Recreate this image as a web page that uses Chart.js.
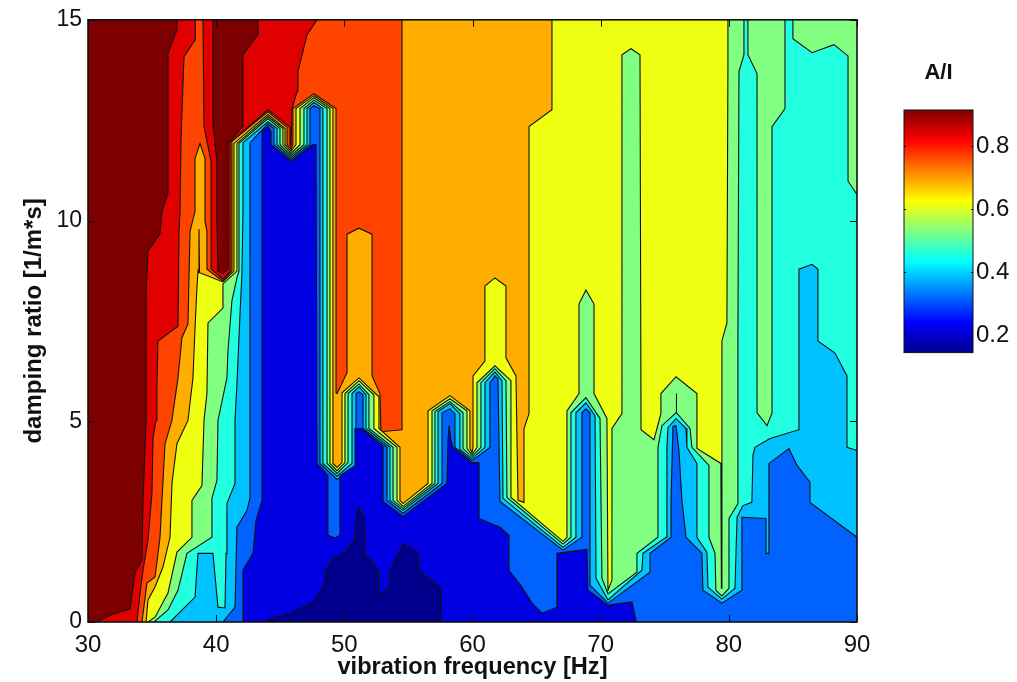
<!DOCTYPE html>
<html><head><meta charset="utf-8"><title>A/I contour</title>
<style>html,body{margin:0;background:#fff;overflow:hidden}canvas{position:absolute;display:block}</style>
<script src="https://cdn.jsdelivr.net/npm/chart.js@4"></script></head><body>
<canvas id="main" width="1017" height="682" style="left:0;top:0"></canvas>
<canvas id="bar" width="157" height="320" style="left:860px;top:50px"></canvas>
<script>
const contour1=[[43.81,0],[43.97,.05],[45.99,.25],[47.55,.5],[48.49,.97],[48.49,1.29],[49.11,1.59],[49.66,1.66],[50.21,1.79],[50.83,2.11],[50.99,2.78],[51.14,2.86],[51.53,2.61],[51.61,1.71],[52.63,1.29],[52.7,.74],[53.02,.74],[53.48,.84],[53.56,1.29],[54.58,1.96],[55.82,1.71],[55.82,1.29],[57.54,.84],[57.54,-.1]];
const contour2=[[42.09,0],[42.09,1.29],[42.87,1.71],[43.11,2.53],[43.58,3.03],[43.58,12.22],[44.04,12.34],[44.28,12.22],[44.28,11.89],[45.84,11.47],[47.55,11.89],[47.79,11.89],[47.87,3.95],[48.72,3.65],[48.72,2.16],[49.27,2.09],[49.66,2.16],[49.66,3.65],[50.83,3.9],[50.83,4.82],[51.38,4.82],[53.02,4.37],[53.02,3],[54.58,2.63],[58.01,3.45],[58.09,4.52],[58.17,4.89],[58.32,4.52],[58.48,4.35],[59.96,3.97],[60.51,3.97],[60.51,2.58],[62.14,2.36],[62.85,2.16],[62.85,1.29],[63.86,.87],[64.64,.47],[65.42,.22],[66.59,.37],[66.59,1.71],[68.93,1.81],[69.01,.79],[70.57,.42],[72.44,.5],[72.83,-.07]];
const contour3=[[40.53,0],[41.47,.37],[41.62,2.36],[42.41,2.78],[42.64,3.1],[42.64,11.94],[44.04,12.41],[44.51,12.29],[44.51,11.89],[45.84,11.52],[47.32,11.89],[47.32,12.79],[47.63,12.86],[48.1,12.79],[48.1,3.95],[49.43,3.55],[50.91,3.87],[50.91,5.69],[51.14,5.74],[51.46,5.66],[51.46,4.82],[53.33,4.35],[53.33,3.03],[54.58,2.71],[57.62,3.45],[57.62,5.21],[58.24,5.31],[58.63,5.19],[58.63,4.35],[59.96,4.02],[61.36,4.35],[61.36,5.96],[61.75,6.13],[61.99,6.06],[62.14,3],[67.06,1.79],[68.54,2.11],[68.54,5.21],[68.85,5.31],[69.17,5.21],[69.17,.92],[70.57,.47],[73.85,1.24],[73.85,1.71],[75.49,2.11],[75.49,3.03],[75.64,4.87],[75.88,4.89],[76.11,4.27],[76.34,3.03],[76.66,2.11],[77.9,1.71],[77.98,.79],[79.46,.47],[81.02,.79],[81.02,2.61],[82.9,2.58],[82.9,1.71],[83.13,1.71],[83.13,3.95],[84.69,4.32],[85.32,3.9],[86.33,3.48],[86.33,2.98],[90,2.11]];
const contour4=[[36.4,0],[38.35,.62],[38.58,1.71],[39.75,1.71],[40.14,.37],[40.69,.35],[40.77,1.71],[40.84,2.95],[41.47,3.45],[41.47,5.02],[41.62,5.93],[41.86,7.67],[42.01,8.67],[42.09,10.23],[42.09,11.94],[44.04,12.46],[44.75,12.29],[44.75,11.89],[45.84,11.57],[47.09,11.89],[47.09,12.79],[47.63,12.94],[48.33,12.79],[48.33,3.95],[49.43,3.63],[50.6,3.95],[50.6,5.69],[51.14,5.86],[51.69,5.66],[51.69,4.82],[53.56,4.35],[53.56,3.03],[54.58,2.78],[57.31,3.45],[57.31,5.24],[58.24,5.44],[59.02,5.19],[59.02,4.3],[59.96,4.07],[60.97,4.35],[60.97,5.96],[61.75,6.23],[62.3,6.01],[62.38,3.08],[67.06,1.86],[68.07,2.11],[68.07,5.21],[68.85,5.46],[69.56,5.14],[69.64,1.09],[70.57,.55],[73.22,1.29],[73.3,1.71],[75.1,2.11],[75.17,4.35],[75.25,4.84],[75.88,5.07],[76.66,4.82],[76.73,4.35],[77.51,3.95],[77.51,2.11],[78.29,1.74],[78.37,.87],[79.46,.57],[80.48,.84],[80.64,2.61],[81.1,2.9],[81.8,2.98],[81.88,4.15],[82.04,4.35],[83.21,4.57],[85.47,4.79],[85.47,8.79],[86.49,8.91],[86.95,8.79],[86.95,7],[88.28,6.7],[89.22,6.13],[89.22,4.35],[90,4.27]];
const contour5=[[35.15,0],[36.24,.3],[37.02,.79],[37.72,1.71],[39.67,2.11],[39.67,3.08],[40.06,3.53],[40.14,5.02],[40.84,6.08],[40.92,6.75],[41.23,8],[41.62,8.57],[41.78,8.74],[41.78,11.92],[44.04,12.54],[44.98,12.29],[44.98,11.89],[45.84,11.62],[46.85,11.89],[46.85,12.79],[47.63,13],[48.65,12.79],[48.65,3.95],[49.43,3.7],[50.29,3.97],[50.29,5.69],[51.14,5.93],[51.92,5.66],[51.92,4.82],[53.8,4.35],[53.8,3.03],[54.58,2.83],[57.07,3.45],[57.07,5.24],[58.24,5.49],[59.26,5.21],[59.26,4.32],[59.96,4.12],[60.66,4.35],[60.66,5.96],[61.75,6.31],[62.61,6.01],[62.69,3.1],[67.06,1.94],[67.68,2.11],[67.68,5.21],[68.85,5.59],[69.95,5.07],[70.1,1.09],[70.57,.7],[72.83,1.24],[72.83,1.71],[74.47,2.11],[74.47,4.35],[74.78,4.89],[75.88,5.21],[75.88,5.69],[75.95,5.21],[76.97,4.82],[77.12,4.35],[78.45,3.9],[78.45,2.11],[78.92,1.71],[78.99,.79],[79.46,.65],[80.01,.84],[80.01,2.58],[80.71,2.95],[80.71,7.2],[80.79,13.71],[81.18,14.13],[81.18,15.5],[81.49,15.5],[81.49,14.13],[82.2,13.66],[82.2,5.21],[82.98,4.89],[83.37,5.21],[83.37,12.34],[84.38,12.79],[84.38,15.5],[85,15.5],[85,14.53],[86.49,14.18],[88.2,14.38],[89.3,14.1],[89.3,10.98],[90,10.65]];
const contour6=[[34.68,0],[35.23,.12],[36.24,.72],[36.94,1.74],[38.11,2.11],[38.11,3.03],[38.89,3.4],[39.05,5.02],[39.28,5.69],[39.36,7.45],[40.53,7.82],[40.53,8.42],[41.62,8.74],[41.62,11.92],[44.04,12.59],[45.21,12.29],[45.21,11.89],[45.84,11.67],[46.54,11.89],[46.54,12.79],[47.63,13.06],[48.88,12.79],[48.88,3.95],[49.43,3.77],[50.05,3.97],[50.05,5.69],[51.14,6.01],[52.31,5.66],[52.31,4.82],[54.11,4.35],[54.11,3.03],[54.58,2.88],[56.84,3.45],[56.84,5.26],[58.24,5.56],[59.57,5.26],[59.57,4.32],[59.96,4.17],[60.35,4.35],[60.35,5.96],[61.75,6.38],[63,6.01],[63,3.1],[67.06,2.01],[67.37,2.11],[67.37,5.26],[68.31,5.69],[68.31,7.92],[68.85,8.27],[69.48,7.92],[69.48,5.69],[70.49,5.07],[70.57,.79],[70.88,1.04],[70.88,4.82],[71.66,5.19],[71.66,14.13],[72.36,14.28],[73.07,14.13],[73.15,4.79],[74.16,4.54],[74.7,5.19],[74.7,5.69],[75.88,6.11],[77.51,5.69],[77.51,4.32],[79.38,3.95],[79.42,.84],[79.46,3.95],[79.46,7],[79.85,7.45],[79.93,13.95],[79.93,15],[80.01,15.5],[90,15.5]];
const contour7=[[34.53,0],[34.68,.55],[35.23,.87],[35.85,1.37],[36.4,2.11],[36.55,3.45],[36.94,4.44],[37.8,5.02],[38.19,6.08],[38.35,7.32],[38.5,8.32],[38.58,8.74],[38.62,8.7],[38.66,9.78],[38.7,8.7],[40.53,8.47],[41.39,8.74],[41.39,11.92],[44.04,12.64],[45.37,12.29],[45.37,11.89],[45.84,11.72],[46.23,11.89],[46.23,12.79],[47.63,13.11],[49.11,12.79],[49.11,3.95],[49.43,3.85],[49.82,3.97],[49.82,5.71],[51.14,6.08],[52.7,5.61],[52.7,4.82],[54.34,4.35],[54.34,3.03],[54.58,2.95],[56.53,3.45],[56.53,5.26],[58.24,5.64],[59.8,5.26],[59.8,4.32],[59.96,4.22],[60.04,4.35],[60.04,6.13],[60.97,6.5],[60.97,8.37],[61.75,8.57],[62.61,8.37],[62.61,6.58],[63.39,6.13],[63.55,3.03],[64.02,2.98],[64.02,4.82],[64.41,5.19],[64.41,12.34],[66.2,12.76],[66.2,15],[66.28,15.5],[90,15.5]];
const contour8=[[34.21,0],[34.6,.97],[35.23,1.12],[35.62,2.11],[35.77,3.03],[36.01,4.44],[36.55,5.02],[37.02,6.08],[37.33,7.08],[37.8,7.42],[37.96,9.73],[38.35,10.23],[38.35,11.55],[38.74,11.92],[39.13,11.55],[39.13,9.98],[39.28,9.73],[39.28,8.79],[40.53,8.49],[41.23,8.74],[41.23,11.97],[44.04,12.71],[45.53,12.32],[45.53,11.89],[45.84,11.77],[45.99,11.89],[45.99,12.79],[47.63,13.16],[49.35,12.79],[49.35,5.71],[49.43,5.69],[50.21,6.21],[50.21,9.66],[51.14,9.81],[52.16,9.66],[52.16,6.13],[52.78,5.69],[52.86,4.74],[54.5,4.79],[54.5,15],[54.58,15.5],[90,15.5]];
const contour9=[[33.82,0],[34.06,.72],[34.29,1.29],[34.68,2.04],[34.99,3.2],[35.07,4.59],[35.31,5.02],[35.38,5.93],[35.46,7],[37.02,7.37],[37.1,9.73],[37.18,10.23],[37.26,12.04],[37.49,14.08],[38.35,14.5],[38.35,15],[38.39,15.5],[38.97,15.5],[38.97,15],[39.05,12.34],[39.6,11.47],[39.6,8.79],[40.53,8.54],[41.08,8.74],[41.08,11.94],[44.04,12.76],[45.76,12.32],[45.76,11.89],[45.84,11.84],[45.92,12.79],[46.31,13.21],[46.38,13.71],[47.09,14.63],[47.87,15],[47.95,15.5],[90,15.5]];
const contour10=[[30.7,0],[31.95,.2],[33.28,.32],[33.67,1.22],[34.21,1.54],[34.29,2.95],[34.53,5.02],[34.53,8.17],[34.68,9.24],[35.62,9.68],[35.77,10.23],[36.24,10.68],[36.24,14.15],[36.87,14.7],[36.94,15],[36.98,15.5],[39.75,15.5],[39.75,12.39],[40.06,11.47],[40.06,9.98],[40.14,8.74],[40.53,8.67],[40.92,8.79],[40.92,11.92],[42.09,12.34],[42.09,14.13],[43.26,14.63],[43.26,15],[43.34,15.5],[90,15.5]];
const contours=[contour1,contour2,contour3,contour4,contour5,contour6,contour7,contour8,contour9,contour10];
const bandColors=["#00008c","#0000e2","#0062ff","#00c2ff","#22ffe0","#80ff80","#eeff12","#ffae00","#ff4400","#e00000"];
const topBandColor="#7d0000";
const xTicks=[30,40,50,60,70,80,90];
const yTicks=[0,5,10,15];
const barTicks=[0.2,0.4,0.6,0.8];
const barRange=[0.144,0.915];
const jetStops=[[0,"#00008f"],[0.125,"#0000ff"],[0.375,"#00ffff"],[0.625,"#ffff00"],[0.875,"#ff0000"],[1,"#800000"]];

const sans='"Liberation Sans",Arial,sans-serif';
function frame(chart,xName,yName,xT,yT,len,both){
  const c=chart.ctx,a=chart.chartArea,sx=chart.scales[xName],sy=chart.scales[yName];
  c.save();c.strokeStyle='#111';c.lineWidth=1;c.beginPath();
  xT.forEach(v=>{const p=Math.round(sx.getPixelForValue(v))+.5;
    c.moveTo(p,a.bottom);c.lineTo(p,a.bottom-len);c.moveTo(p,a.top);c.lineTo(p,a.top+len);});
  yT.forEach(v=>{const p=Math.round(sy.getPixelForValue(v))+.5;
    c.moveTo(a.left,p);c.lineTo(a.left+len,p);c.moveTo(a.right,p);c.lineTo(a.right-len,p);});
  c.stroke();c.lineWidth=both;c.strokeRect(a.left,a.top,a.right-a.left,a.bottom-a.top);c.restore();
}
new Chart(document.getElementById('main'),{
  type:'scatter',
  data:{datasets:contours.map((pts,i)=>({
    label:'level '+(i+1),
    data:pts.map(p=>({x:p[0],y:p[1]})),
    showLine:true,tension:0,pointRadius:0,borderColor:'#111',borderWidth:1.1,
    backgroundColor:bandColors[i],fill:'origin',clip:0
  }))},
  options:{responsive:false,animation:false,events:[],
    layout:{padding:{top:18,right:160,left:0,bottom:0}},
    plugins:{legend:{display:false},tooltip:{enabled:false}},
    scales:{
      x:{type:'linear',min:30,max:90,afterFit:s=>{s.height=60},grid:{display:false,drawTicks:false},border:{display:false},
        afterBuildTicks:s=>{s.ticks=xTicks.map(v=>({value:v}))},
        ticks:{color:'#111',font:{family:sans,size:24},padding:9,maxRotation:0,autoSkip:false},
        title:{display:true,text:'vibration frequency [Hz]',color:'#111',font:{family:sans,size:23.6,weight:'bold'},padding:{top:0,bottom:0}}},
      y:{type:'linear',min:0,max:15,afterFit:s=>{s.width=88},grid:{display:false,drawTicks:false},border:{display:false},
        afterBuildTicks:s=>{s.ticks=yTicks.map(v=>({value:v}))},
        ticks:{color:'#111',font:{family:sans,size:23},padding:6,autoSkip:false},
        title:{display:true,text:'damping ratio [1/m*s]',color:'#111',font:{family:sans,size:24,weight:'bold'},padding:{top:20,bottom:0}}}
    }
  },
  plugins:[{id:'bg',beforeDraw(ch){const a=ch.chartArea,c=ch.ctx;c.save();c.fillStyle=topBandColor;c.fillRect(a.left,a.top,a.right-a.left,a.bottom-a.top);c.restore();},
    afterDatasetsDraw(ch){frame(ch,'x','y',xTicks,yTicks,7,1.6);}}]
});
new Chart(document.getElementById('bar'),{
  type:'bar',
  data:{labels:['A/I'],datasets:[{data:[barRange],barPercentage:1,categoryPercentage:1,
    backgroundColor(ctx){
      const s=ctx.chart.scales.y;if(!s||!ctx.chart.chartArea)return '#000';
      const g=ctx.chart.ctx.createLinearGradient(0,s.getPixelForValue(barRange[0]),0,s.getPixelForValue(barRange[1]));
      jetStops.forEach(t=>g.addColorStop(t[0],t[1]));return g;}}]},
  options:{responsive:false,animation:false,events:[],
    layout:{padding:{top:0,right:0,left:44,bottom:14}},
    plugins:{legend:{display:false},tooltip:{enabled:false}},
    scales:{
      x:{type:'category',position:'top',afterFit:s=>{s.height=60},grid:{display:false,drawTicks:false},border:{display:false},ticks:{display:false},
        title:{display:true,text:'A/I',color:'#111',font:{family:sans,size:22,weight:'bold'},padding:{top:10,bottom:0}}},
      y:{type:'linear',position:'right',min:barRange[0],max:barRange[1],afterFit:s=>{s.width=44},grid:{display:false,drawTicks:false},border:{display:false},
        afterBuildTicks:s=>{s.ticks=barTicks.map(v=>({value:v}))},
        ticks:{color:'#111',font:{family:sans,size:24},padding:3,autoSkip:false,callback:v=>v.toFixed(1)}}
    }
  },
  plugins:[{id:'barframe',afterDatasetsDraw(ch){frame(ch,'x','y',[],barTicks,2,1);}}]
});
</script></body></html>
